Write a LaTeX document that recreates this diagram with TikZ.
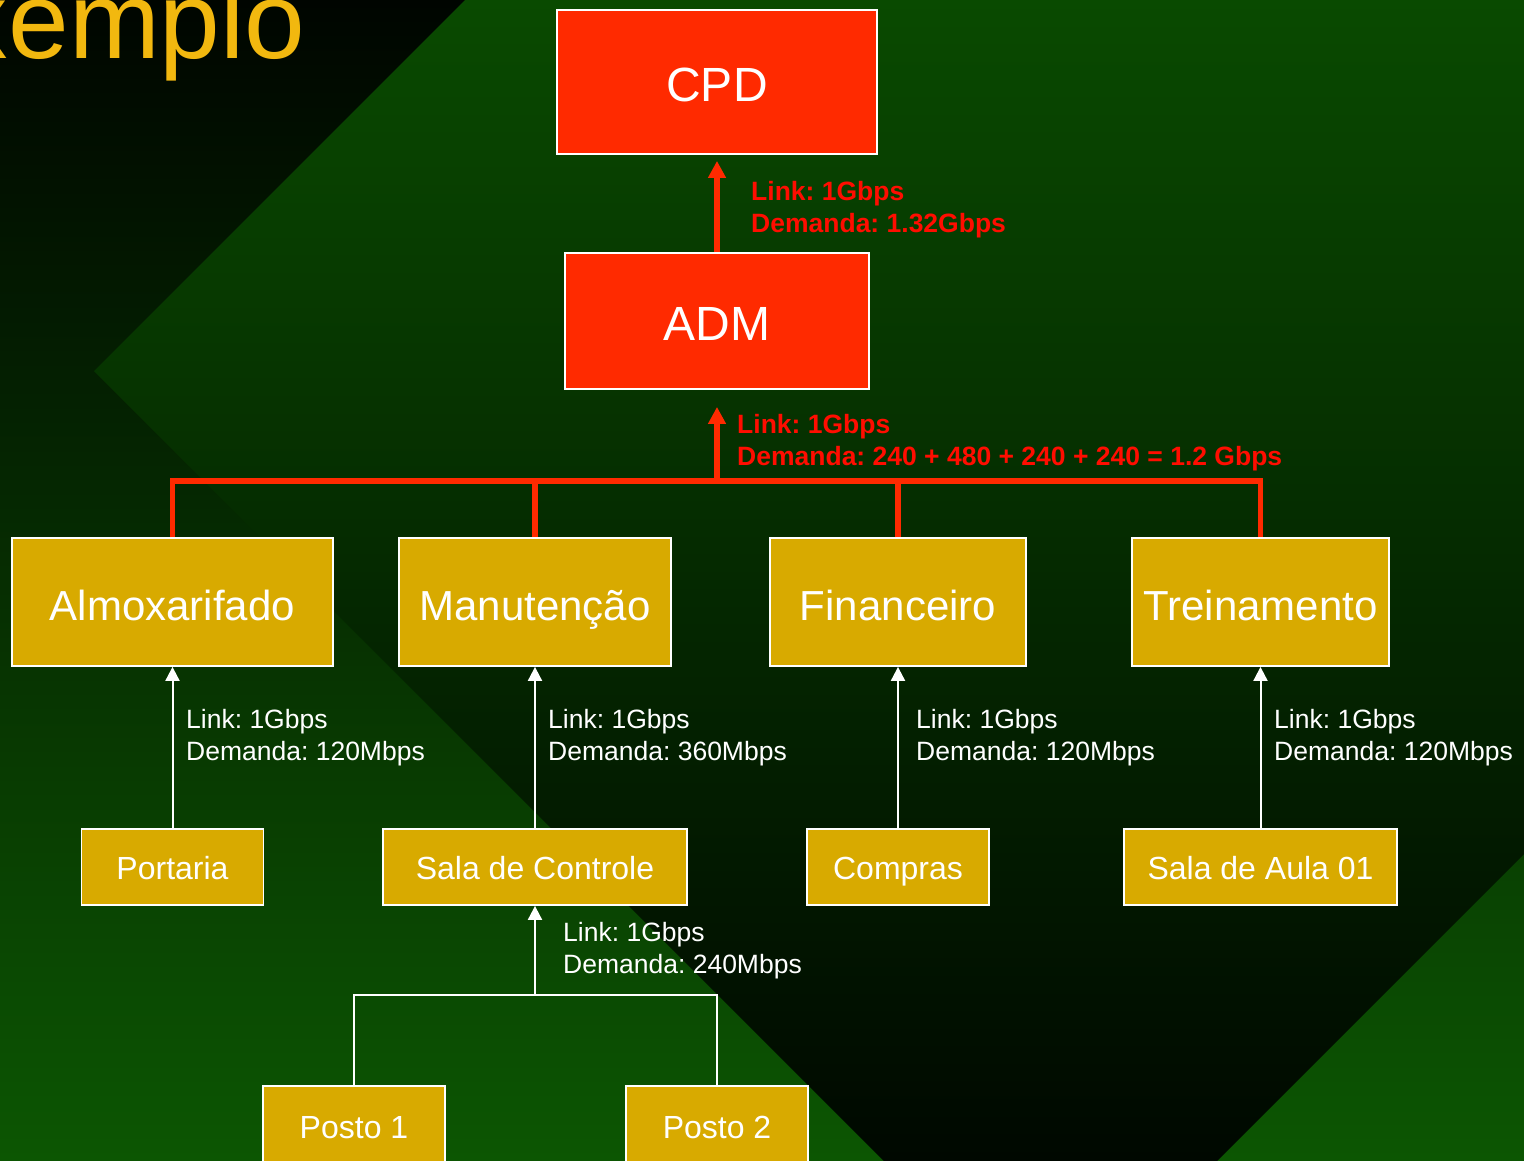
\documentclass[tikz,border=0pt]{standalone}
\usepackage{fontspec}
\setmainfont{Liberation Sans}
\usetikzlibrary{arrows.meta}

\definecolor{boxred}{HTML}{FF2A00}
\definecolor{labelred}{HTML}{FF0D00}
\definecolor{boxgold}{HTML}{D8AA00}
\definecolor{titlegold}{HTML}{F2B80F}
\definecolor{bgtop}{HTML}{000500}
\definecolor{bgmid}{HTML}{043A00}
\definecolor{bgbot}{HTML}{0C5602}
\definecolor{dtop}{HTML}{094A00}
\definecolor{dbot}{HTML}{000800}

\newcommand\fsz[2]{\fontsize{#1bp}{#2bp}\selectfont\frenchspacing}

\begin{document}
\begin{tikzpicture}[x=1bp, y=-1bp,
  box/.style={draw=white, line width=1.8bp, inner sep=0pt, text=white, text depth=0bp},
  redbox/.style={box, fill=boxred, font=\fsz{48}{58}, text height=38bp},
  deptbox/.style={box, fill=boxgold, font=\fsz{42}{50}, text height=36bp, minimum height=128bp},
  subbox/.style={box, fill=boxgold, font=\fsz{32}{38}, text height=25bp, minimum height=76bp},
  redlabel/.style={font=\bfseries\fsz{26.5}{32}, text=labelred, align=left, anchor=west, inner sep=0pt},
  whitelabel/.style={font=\fsz{26.5}{32}, text=white, align=left, anchor=west, inner sep=0pt},
  redlink/.style={draw=boxred, line width=5.5bp},
  redarrow/.style={redlink, -{Triangle[width=17bp,length=17bp]}},
  whitelink/.style={draw=white, line width=2bp},
  whitearrow/.style={whitelink, -{Triangle[width=14bp,length=14bp]}}
]
\useasboundingbox (0,0) rectangle (1524,1160);
\clip (0,0) rectangle (1524,1160);

% background: vertical gradient with a large tilted square over it
\shade[top color=bgtop, middle color=bgmid, bottom color=bgbot] (0,0) rectangle (1524,1160);
\begin{scope}
  \clip (94,371) -- (1500,-1035) -- (2456.5,-78.5) -- (1050.5,1327.5) -- cycle;
  \shade[top color=dtop, bottom color=dbot] (0,0) rectangle (1524,1160);
\end{scope}

% slide title
\node[anchor=base west, inner sep=0pt, text=titlegold, font=\fsz{109}{130}] (title) at (-119,58) {Exemplo};

% core
\node[redbox, minimum width=320bp, minimum height=144bp] (cpd) at (717,82) {CPD};
\node[redbox, minimum width=304bp, minimum height=136bp] (adm) at (717,321) {ADM};

% departments
\node[deptbox, minimum width=321bp] (almox) at (172.5,602) {Almoxarifado};
\node[deptbox, minimum width=272bp] (manut) at (535,602) {Manutenção};
\node[deptbox, minimum width=256bp] (fin) at (898,602) {Financeiro};
\node[deptbox, minimum width=257bp] (trein) at (1260.5,602) {Treinamento};

% rooms
\node[subbox, minimum width=182bp] (port) at (172.5,867) {Portaria};
\node[subbox, minimum width=304bp] (sala) at (535,867) {Sala de Controle};
\node[subbox, minimum width=182bp] (compras) at (898,867) {Compras};
\node[subbox, minimum width=273bp] (aula) at (1260.5,867) {Sala de Aula 01};
\node[subbox, minimum width=182bp, minimum height=80bp] (posto1) at (354,1126) {Posto 1};
\node[subbox, minimum width=182bp, minimum height=80bp] (posto2) at (717,1126) {Posto 2};

% backbone links
\coordinate (hub) at (717,481);
\draw[redlink] (almox.north) |- (hub) -| (trein.north);
\draw[redlink] (manut.north) -- (manut.north |- hub);
\draw[redlink] (fin.north) -- (fin.north |- hub);
\draw[redarrow, shorten >=17bp] (hub) -- (adm.south);
\draw[redarrow, shorten >=6bp] (adm.north) -- (cpd.south);

% access links
\draw[whitearrow] (port.north) -- (almox.south);
\draw[whitearrow] (sala.north) -- (manut.south);
\draw[whitearrow] (compras.north) -- (fin.south);
\draw[whitearrow] (aula.north) -- (trein.south);
\coordinate (sub) at (535,995);
\draw[whitelink] (posto1.north) |- (sub) -| (posto2.north);
\draw[whitearrow] (sub) -- (sala.south);

% link labels
\node[redlabel] (lcpd) at (751,209.6) {Link: 1Gbps\\Demanda: 1.32Gbps};
\node[redlabel] (ladm) at (737,442.8) {Link: 1Gbps\\Demanda: 240 + 480 + 240 + 240 = 1.2 Gbps};
\node[whitelabel] (lalm) at (186,738) {Link: 1Gbps\\Demanda: 120Mbps};
\node[whitelabel] (lman) at (548,738) {Link: 1Gbps\\Demanda: 360Mbps};
\node[whitelabel] (lfin) at (916,738) {Link: 1Gbps\\Demanda: 120Mbps};
\node[whitelabel] (ltre) at (1274,738) {Link: 1Gbps\\Demanda: 120Mbps};
\node[whitelabel] (lsala) at (563,951) {Link: 1Gbps\\Demanda: 240Mbps};
\end{tikzpicture}
\end{document}
